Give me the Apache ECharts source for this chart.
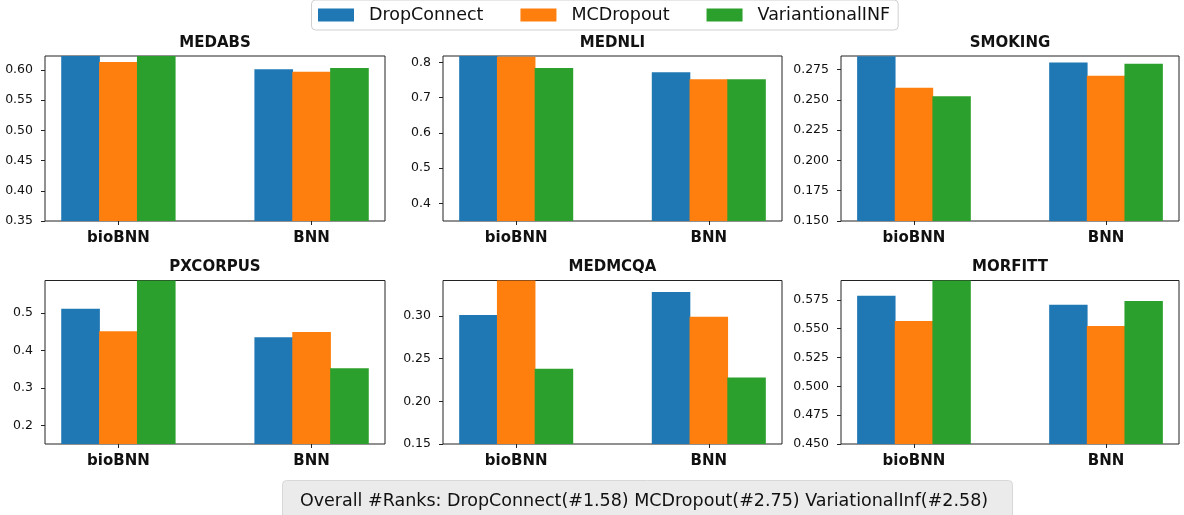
<!DOCTYPE html>
<html><head><meta charset="utf-8">
<script src="https://cdn.jsdelivr.net/npm/echarts@6/dist/echarts.min.js"></script>
<style>html,body{margin:0;padding:0;background:#fff}#c{width:1184px;height:515px}</style>
</head><body><div id="c"></div>
<script>
const methods = ['DropConnect', 'MCDropout', 'VariantionalINF'];
const groups = ['bioBNN', 'BNN'];
const datasets = ['MEDABS', 'MEDNLI', 'SMOKING', 'PXCORPUS', 'MEDMCQA', 'MORFITT'];
// values per dataset: [bioBNN, BNN]
const dropConnect    = [[0.623, 0.601], [0.818, 0.772], [0.286, 0.281], [0.512, 0.436], [0.301, 0.328], [0.5785, 0.5707]];
const mcDropout      = [[0.613, 0.597], [0.816, 0.752], [0.260, 0.270], [0.452, 0.450], [0.3415, 0.299], [0.5567, 0.5524]];
const variationalInf = [[0.623, 0.603], [0.784, 0.752], [0.253, 0.280], [0.588, 0.353], [0.238, 0.228], [0.592, 0.574]];
const yMin = [0.35, 0.35, 0.15, 0.15, 0.15, 0.45];
const yMax = [0.623, 0.818, 0.2863, 0.5876, 0.3415, 0.5918];
const yTicks = [
  ['0.35', '0.40', '0.45', '0.50', '0.55', '0.60'],
  ['0.4', '0.5', '0.6', '0.7', '0.8'],
  ['0.150', '0.175', '0.200', '0.225', '0.250', '0.275'],
  ['0.2', '0.3', '0.4', '0.5'],
  ['0.15', '0.20', '0.25', '0.30'],
  ['0.450', '0.475', '0.500', '0.525', '0.550', '0.575']
];
const rankText = 'Overall #Ranks: DropConnect(#1.58) MCDropout(#2.75) VariationalInf(#2.58)';

const seriesValues = [dropConnect, mcDropout, variationalInf];
const colors = ['#1f77b4', '#ff7f0e', '#2ca02c'];
const colLeft = [45, 443, 841], colW = [340, 339, 338];
const rowTop = [56, 280.5], rowH = [165, 163.5];
const xLim = [-0.38, 1.38];
const FONT = 'DejaVu Sans';
const ink = '#111';

const grids = [], xAxes = [], yAxes = [], series = [], graphics = [];
datasets.forEach((name, i) => {
  const r = Math.floor(i / 3), c = i % 3;
  grids.push({left: colLeft[c], top: rowTop[r], width: colW[c], height: rowH[r],
    show: true, borderColor: '#222', borderWidth: 1, backgroundColor: 'transparent'});
  xAxes.push({type: 'value', gridIndex: i, min: xLim[0], max: xLim[1],
    axisLine: {show: false, onZero: false}, splitLine: {show: false},
    axisTick: {show: true, customValues: [0, 1], length: 4, lineStyle: {color: '#222'}},
    axisLabel: {show: true, customValues: [0, 1], formatter: v => groups[Math.round(v)] || '',
      fontFamily: FONT, fontWeight: 'bold', fontSize: 15, color: ink, margin: 10}});
  const tv = yTicks[i].map(Number);
  yAxes.push({type: 'value', gridIndex: i, min: yMin[i], max: yMax[i],
    axisLine: {show: false, onZero: false}, splitLine: {show: false},
    axisTick: {show: true, customValues: tv, length: 4, lineStyle: {color: '#222'}},
    axisLabel: {show: true, customValues: tv,
      formatter: v => { const k = tv.findIndex(t => Math.abs(t - v) < 1e-9); return k >= 0 ? yTicks[i][k] : ''; },
      fontFamily: FONT, fontSize: 12.5, color: ink, margin: 12}});
  const bw = colW[c] * 0.2 / (xLim[1] - xLim[0]);
  methods.forEach((m, k) => {
    series.push({type: 'bar', name: m, xAxisIndex: i, yAxisIndex: i,
      data: groups.map((g, j) => [j, seriesValues[k][i][j]]),
      barWidth: bw, barGap: '-2%', clip: true, itemStyle: {color: colors[k]}, emphasis: {disabled: true}});
  });
  graphics.push({type: 'text', x: colLeft[c] + colW[c] / 2, y: r === 0 ? 43.5 : 267.5,
    style: {text: name, font: 'bold 15px "DejaVu Sans"', fill: ink, textAlign: 'center', textVerticalAlign: 'middle'}});
});
graphics.push({type: 'rect', shape: {x: 282.5, y: 480.5, width: 730, height: 45, r: 4},
  style: {fill: '#ebebeb', stroke: '#d8d8d8', lineWidth: 1}});
graphics.push({type: 'text', x: 644, y: 501,
  style: {text: rankText, font: '17.5px "DejaVu Sans"', fill: ink, textAlign: 'center', textVerticalAlign: 'middle'}});

const chart = echarts.init(document.getElementById('c'), null, {renderer: 'canvas'});
chart.setOption({
  animation: false,
  textStyle: {fontFamily: FONT},
  legend: {data: methods, left: 311.5, top: 0, itemWidth: 36, itemHeight: 13, itemGap: 37, icon: 'rect',
    padding: [6, 8, 6, 6.5], backgroundColor: '#fff', borderColor: '#d0d0d0', borderWidth: 1, borderRadius: 4,
    textStyle: {fontSize: 17.5, fontFamily: FONT, color: ink, padding: [0, 0, 0, 10]}},
  grid: grids, xAxis: xAxes, yAxis: yAxes, series: series, graphic: graphics
});
</script></body></html>
